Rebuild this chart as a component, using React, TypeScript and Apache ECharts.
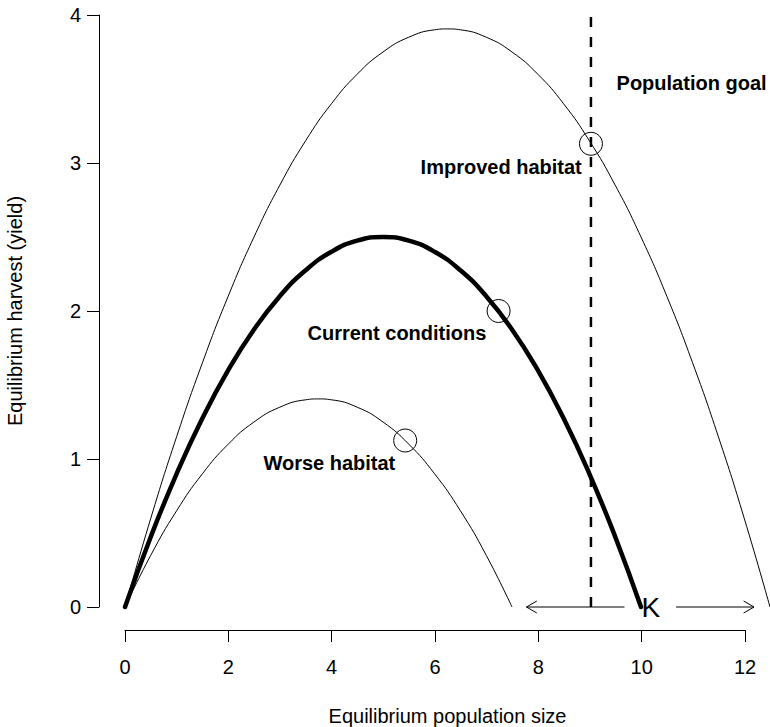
import React, { useEffect, useRef } from "react";
import * as echarts from "echarts";

// Equilibrium population size (x) sampled along each yield curve
const currentN = [0, 0.5, 1, 1.5, 2, 2.5, 3, 3.5, 4, 4.5, 5, 5.5, 6, 6.5, 7, 7.5, 8, 8.5, 9, 9.5, 10];
const currentYield = [0, 0.475, 0.9, 1.275, 1.6, 1.875, 2.1, 2.275, 2.4, 2.475, 2.5, 2.475, 2.4, 2.275, 2.1, 1.875, 1.6, 1.275, 0.9, 0.475, 0];

const improvedN = [0, 0.5, 1, 1.5, 2, 2.5, 3, 3.5, 4, 4.5, 5, 5.5, 6, 6.25, 6.5, 7, 7.5, 8, 8.5, 9, 9.5, 10, 10.5, 11, 11.5, 12, 12.5];
const improvedYield = [0, 0.6, 1.15, 1.65, 2.1, 2.5, 2.85, 3.15, 3.4, 3.6, 3.75, 3.85, 3.9, 3.906, 3.9, 3.85, 3.75, 3.6, 3.4, 3.15, 2.85, 2.5, 2.1, 1.65, 1.15, 0.6, 0];

const worseN = [0, 0.5, 1, 1.5, 2, 2.5, 3, 3.5, 3.75, 4, 4.5, 5, 5.5, 6, 6.5, 7, 7.5];
const worseYield = [0, 0.35, 0.65, 0.9, 1.1, 1.25, 1.35, 1.4, 1.406, 1.4, 1.35, 1.25, 1.1, 0.9, 0.65, 0.35, 0];

// Marked points (open circles)
const markN = [9.03, 7.24, 5.43];
const markYield = [3.13, 2.0, 1.125];

// Population goal (vertical dashed line)
const goalN = 9.03;
const goalTop = 4.0;

// K arrows: [x0, y0, x1, y1]
const arrowData = [
  [9.68, 0, 7.78, 0],
  [10.68, 0, 12.19, 0],
];

// Text annotations
const labelNames = ["Population goal", "Improved habitat", "Current conditions", "Worse habitat", "K"];
const labelN = [10.98, 7.29, 5.27, 3.96, 10.19];
const labelY = [3.54, 2.97, 1.85, 0.97, -0.005];

// Axis tick settings
const xTicks = { min: 0, max: 12, interval: 2 };
const yTicks = { min: 0, max: 4, interval: 1 };
// data range of the drawing area (curves run past the last x tick)
const xDataMax = 12.5;

const FONT = "'Liberation Sans', Arial, Helvetica, sans-serif";

const zip = (a: number[], b: number[]) => a.map((v, i) => [v, b[i]]);

export default function App() {
  const ref = useRef<HTMLDivElement>(null);
  useEffect(() => {
    if (!ref.current) return;
    const chart = echarts.init(ref.current, undefined, { renderer: "svg" });
    const axisCommon = {
      axisLine: { show: true, onZero: false, lineStyle: { color: "#000", width: 1 } },
      axisTick: { show: true, inside: false, length: 12, lineStyle: { color: "#000", width: 1 } },
      splitLine: { show: false },
    };
    const pxPerX = (745 - 125) / 12;
    const rightData = 770 - 125 - xDataMax * pxPerX;
    const titleGraphics = [
      {
        id: "xtitle",
        type: "text",
        x: 447.5,
        y: 716,
        style: {
          text: "Equilibrium population size",
          fontSize: 20,
          fontFamily: FONT,
          fill: "#000",
          align: "center",
          verticalAlign: "middle",
        },
      },
      {
        id: "ytitle",
        type: "text",
        x: 15,
        y: 311,
        rotation: Math.PI / 2,
        style: {
          text: "Equilibrium harvest (yield)",
          fontSize: 20,
          fontFamily: FONT,
          fill: "#000",
          align: "center",
          verticalAlign: "middle",
        },
      },
    ];
    chart.setOption({
      animation: false,
      backgroundColor: "#fff",
      grid: [
        { left: 125, right: rightData, top: 15, bottom: 120, containLabel: false },
        { left: 125, right: 25, top: 15, bottom: 120, containLabel: false },
      ],
      xAxis: [
        { type: "value", gridIndex: 0, min: 0, max: xDataMax, show: false },
        {
          type: "value",
          gridIndex: 1,
          ...xTicks,
          offset: 23,
          ...axisCommon,
          axisLabel: { color: "#000", fontSize: 20, fontFamily: FONT, margin: 27 },
        },
      ],
      yAxis: [
        { type: "value", gridIndex: 0, ...yTicks, show: false },
        {
          type: "value",
          gridIndex: 1,
          ...yTicks,
          offset: 26,
          ...axisCommon,
          axisLabel: { color: "#000", fontSize: 20, fontFamily: FONT, margin: 18 },
        },
      ],
      graphic: titleGraphics,
      series: [
        {
          type: "line",
          xAxisIndex: 0,
          yAxisIndex: 0,
          data: zip(improvedN, improvedYield),
          smooth: true,
          showSymbol: false,
          clip: false,
          lineStyle: { color: "#000", width: 1 },
          z: 2,
        },
        {
          type: "line",
          xAxisIndex: 0,
          yAxisIndex: 0,
          data: zip(worseN, worseYield),
          smooth: true,
          showSymbol: false,
          clip: false,
          lineStyle: { color: "#000", width: 1 },
          z: 2,
        },
        {
          type: "line",
          xAxisIndex: 0,
          yAxisIndex: 0,
          data: zip(currentN, currentYield),
          smooth: true,
          showSymbol: false,
          clip: false,
          lineStyle: { color: "#000", width: 4.5, cap: "round", join: "round" },
          z: 3,
        },
        {
          type: "line",
          xAxisIndex: 0,
          yAxisIndex: 0,
          data: [
            [goalN, 0],
            [goalN, goalTop],
          ],
          showSymbol: false,
          clip: false,
          lineStyle: { color: "#000", width: 2.5, type: [10, 10] },
          z: 3,
        },
        {
          type: "scatter",
          xAxisIndex: 0,
          yAxisIndex: 0,
          data: zip(markN, markYield),
          symbol: "circle",
          symbolSize: 23,
          clip: false,
          itemStyle: { color: "rgba(0,0,0,0)", borderColor: "#000", borderWidth: 1, opacity: 1 },
          z: 4,
        },
        {
          type: "custom",
          xAxisIndex: 0,
          yAxisIndex: 0,
          clip: false,
          data: arrowData,
          renderItem: (params: any, api: any) => {
            const p0 = api.coord([api.value(0), api.value(1)]);
            const p1 = api.coord([api.value(2), api.value(3)]);
            const ang = Math.atan2(p1[1] - p0[1], p1[0] - p0[0]);
            const L = 12;
            const a = Math.PI / 6;
            const h1 = [p1[0] - L * Math.cos(ang - a), p1[1] - L * Math.sin(ang - a)];
            const h2 = [p1[0] - L * Math.cos(ang + a), p1[1] - L * Math.sin(ang + a)];
            return {
              type: "group",
              children: [
                {
                  type: "line",
                  shape: { x1: p0[0], y1: p0[1], x2: p1[0], y2: p1[1] },
                  style: { stroke: "#000", lineWidth: 1 },
                },
                {
                  type: "polyline",
                  shape: { points: [h1, p1, h2] },
                  style: { stroke: "#000", lineWidth: 1, fill: "none" },
                },
              ],
            };
          },
          z: 4,
        },
      ],
    });
    // Annotation texts placed through the chart's own data-to-pixel scale
    const labelGraphics = labelNames.map((name, i) => {
      const p = chart.convertToPixel({ xAxisIndex: 0, yAxisIndex: 0 }, [labelN[i], labelY[i]]) as number[];
      const isK = name === "K";
      return {
        id: "lbl" + i,
        type: "text",
        x: p[0],
        y: p[1],
        z: 10,
        style: {
          text: name,
          fontSize: isK ? 28 : 20,
          fontWeight: isK ? "normal" : "bold",
          fontFamily: FONT,
          fill: "#000",
          align: "center",
          verticalAlign: "middle",
        },
      };
    });
    chart.setOption({ graphic: [...titleGraphics, ...labelGraphics] });
    return () => chart.dispose();
  }, []);
  return (
    <div
      ref={ref}
      style={{ position: "fixed", left: 0, top: 0, width: 770, height: 727 }}
    />
  );
}
